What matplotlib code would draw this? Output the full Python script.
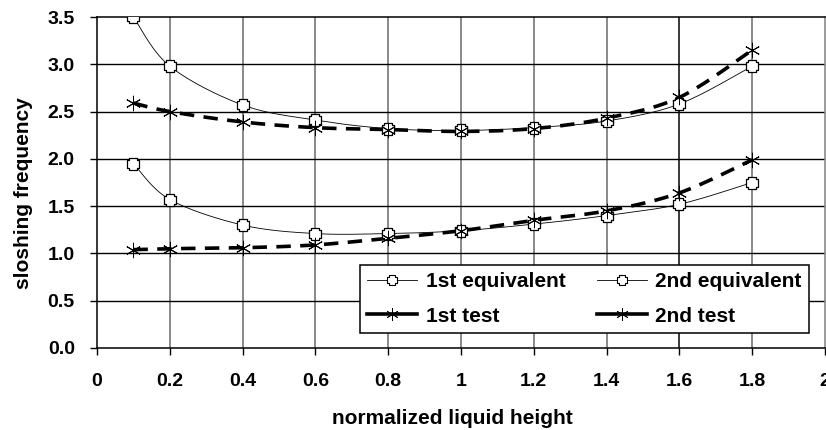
import numpy as np
import matplotlib
matplotlib.use("Agg")
import matplotlib.pyplot as plt
from matplotlib.path import Path

x = [0.1, 0.2, 0.4, 0.6, 0.8, 1.0, 1.2, 1.4, 1.6, 1.8]
eq1 = [1.95, 1.57, 1.30, 1.21, 1.21, 1.24, 1.31, 1.40, 1.52, 1.75]
eq2 = [3.50, 2.98, 2.57, 2.41, 2.32, 2.30, 2.33, 2.40, 2.58, 2.98]
test1 = [1.04, 1.05, 1.06, 1.09, 1.16, 1.24, 1.35, 1.45, 1.64, 1.99]
test2 = [2.59, 2.50, 2.39, 2.33, 2.31, 2.29, 2.32, 2.43, 2.65, 3.15]
xticks = [0, 0.2, 0.4, 0.6, 0.8, 1, 1.2, 1.4, 1.6, 1.8, 2]
xticklabels = ["0", "0.2", "0.4", "0.6", "0.8", "1", "1.2", "1.4", "1.6", "1.8", "2"]
yticks = [0.0, 0.5, 1.0, 1.5, 2.0, 2.5, 3.0, 3.5]

plt.rcParams['font.family'] = ['Liberation Sans', 'DejaVu Sans']
plt.rcParams['font.weight'] = 'bold'


def smooth(xs, ys, n=30):
    """Excel-like smoothed line via Catmull-Rom segments."""
    xs = np.asarray(xs, float)
    ys = np.asarray(ys, float)
    P = np.column_stack([xs, ys])
    P = np.vstack([P[0], P, P[-1]])
    out = []
    t = np.linspace(0, 1, n)
    for i in range(1, len(P) - 2):
        p0, p1, p2, p3 = P[i - 1], P[i], P[i + 1], P[i + 2]
        c1 = p1 + (p2 - p0) / 6
        c2 = p2 - (p3 - p1) / 6
        seg = ((1 - t)[:, None] ** 3 * p1 + 3 * ((1 - t) ** 2 * t)[:, None] * c1
               + 3 * ((1 - t) * t ** 2)[:, None] * c2 + (t ** 3)[:, None] * p2)
        out.append(seg if i == 1 else seg[1:])
    out = np.vstack(out)
    return out[:, 0], out[:, 1]


# fat plus marker
a, b = 0.28, 0.5
plus = Path([(-a, b), (a, b), (a, a), (b, a), (b, -a), (a, -a), (a, -b), (-a, -b),
             (-a, -a), (-b, -a), (-b, a), (-a, a), (-a, b)], closed=True)
star = (6, 2, 0)

fig = plt.figure(figsize=(8.26, 4.30), dpi=100)
ax = fig.add_axes([97 / 826, 1 - 348 / 430, (825 - 97) / 826, (348 - 17) / 430])

ax.set_xlim(0, 2)
ax.set_ylim(0, 3.5)

# grid
for xv in xticks[1:-1]:
    ax.axvline(xv, color='#2a2a2a' if xv == 1.6 else '#808080', lw=1.3, zorder=1)
for yv in yticks[1:-1]:
    ax.axhline(yv, color='black', lw=1.0, zorder=1)

for ys in (eq1, eq2):
    sx, sy = smooth(x, ys)
    ax.plot(sx, sy, color='black', lw=0.6, zorder=3)
    ax.plot(x, ys, linestyle='none', marker=plus, ms=9, mfc='white', mec='black', mew=0.9, zorder=4)
for ys in (test1, test2):
    sx, sy = smooth(x, ys)
    ax.plot(sx, sy, color='black', lw=2.6, dashes=(4, 2.6), zorder=3)
    ax.plot(x, ys, linestyle='none', marker=star, ms=11, mec='black', mew=0.7, zorder=4)

ax.set_xticks(xticks)
ax.set_xticklabels(xticklabels)
ax.set_yticks(yticks)
ax.set_yticklabels([f"{v:.1f}" for v in yticks])
ax.tick_params(axis='both', direction='out', length=5, width=1, labelsize=14, colors='black')
ax.tick_params(axis='x', pad=13)
ax.tick_params(axis='y', pad=11)
for s in ax.spines.values():
    s.set_linewidth(1.1)
    s.set_color('black')
ax.spines['right'].set_color('#808080')

ax.set_xlabel('normalized liquid height', fontsize=15, fontweight='bold')
ax.set_ylabel('sloshing frequency', fontsize=15, fontweight='bold')
ax.xaxis.set_label_coords((452 - 97) / 728, -0.183)
ax.yaxis.set_label_coords((33 - 97) / 728, (348 - 193) / 331)

h1, = ax.plot([], [], color='black', lw=0.6, marker=plus, ms=7, mfc='white', mec='black', mew=0.8)
h2, = ax.plot([], [], color='black', lw=0.6, marker=plus, ms=7, mfc='white', mec='black', mew=0.8)
h3, = ax.plot([], [], color='black', lw=2.6, marker=star, ms=9, mec='black', mew=0.6)
h4, = ax.plot([], [], color='black', lw=2.6, marker=star, ms=9, mec='black', mew=0.6)
leg = ax.legend([h1, h3, h2, h4], ['1st equivalent', '1st test', '2nd equivalent', '2nd test'],
                ncol=2, loc='lower left', bbox_to_anchor=((360 - 97) / 728, (348 - 333) / 331,
                                                         (809 - 360) / 728, (333 - 264) / 331),
                mode='expand', fancybox=False, framealpha=1, edgecolor='black',
                prop={'size': 15, 'weight': 'bold'}, handlelength=2.4, handletextpad=0.4,
                borderaxespad=0, borderpad=0.35, columnspacing=1.0, labelspacing=0.75)
leg.get_frame().set_linewidth(1.1)
leg.set_zorder(10)

fig.savefig('out.png', dpi=100)
